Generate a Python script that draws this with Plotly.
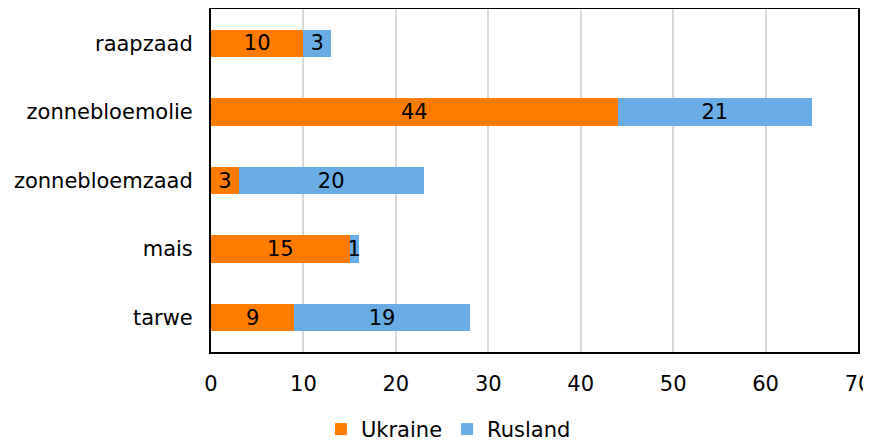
import plotly.graph_objects as go

categories = ["raapzaad", "zonnebloemolie", "zonnebloemzaad", "mais", "tarwe"]
ukraine = [10, 44, 3, 15, 9]
rusland = [3, 21, 20, 1, 19]
x_ticks = [0, 10, 20, 30, 40, 50, 60, 70]

FONT = "DejaVu Sans"
FS = 21

# page has an 8px body margin: figure is offset by 8px
fig = go.Figure()
fig.add_trace(go.Bar(
    y=categories, x=ukraine, name="Ukraine", orientation="h",
    marker=dict(color="#FF7C00", line=dict(width=0)),
    text=ukraine, textposition="inside", insidetextanchor="middle",
    constraintext="none", textangle=0,
    textfont=dict(family=FONT, size=FS, color="black"),
))
fig.add_trace(go.Bar(
    y=categories, x=rusland, name="Rusland", orientation="h",
    marker=dict(color="#6AADE4", line=dict(width=0)),
    text=rusland, textposition="inside", insidetextanchor="middle",
    constraintext="none", textangle=0,
    textfont=dict(family=FONT, size=FS, color="black"),
))

fig.update_layout(
    barmode="stack",
    bargap=0.6,
    width=863, height=436,
    margin=dict(l=203, r=13, t=1, b=92, autoexpand=False),
    paper_bgcolor="white", plot_bgcolor="white",
    font=dict(family=FONT, size=FS, color="black"),
    showlegend=True,
    legend=dict(orientation="h", x=0.367, xanchor="center", y=-0.166, yanchor="top",
                font=dict(family=FONT, size=FS, color="black"),
                traceorder="normal", itemwidth=30, tracegroupgap=0),
    xaxis=dict(range=[0, 70], tickvals=x_ticks, showgrid=True, gridcolor="#D9D9D9",
               gridwidth=2, zeroline=False, showline=True, linecolor="black",
               linewidth=2, mirror=True, ticks="", ticklabelstandoff=12,
               ticklabeloverflow="allow", automargin=False),
    yaxis=dict(categoryorder="array", categoryarray=categories[::-1],
               showgrid=False, zeroline=False, showline=True, linecolor="black",
               linewidth=2, mirror=True, ticks="", ticklabelstandoff=12,
               automargin=False),
)

fig.write_html("out.html")
